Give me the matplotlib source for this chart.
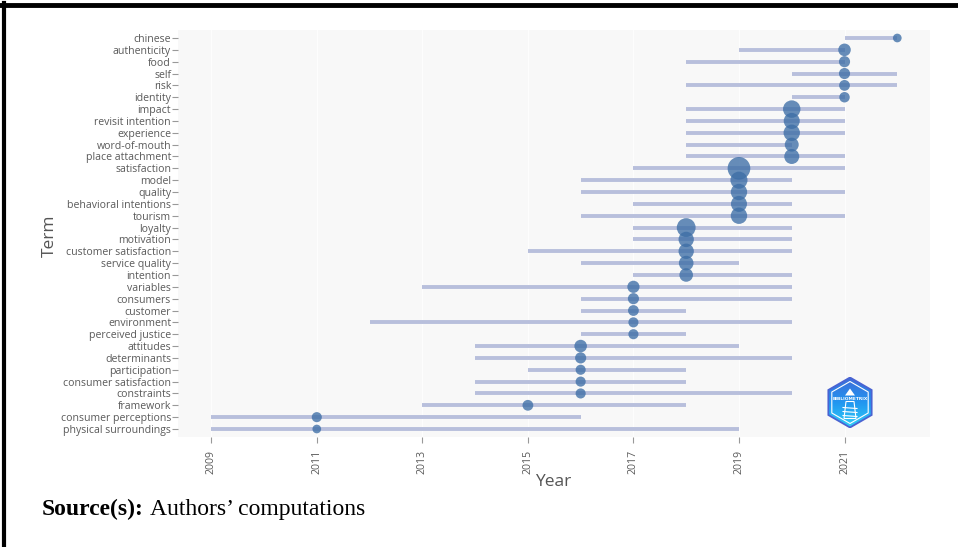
import matplotlib
matplotlib.use('Agg')
import matplotlib.pyplot as plt
import numpy as np
from matplotlib.patches import Polygon
from matplotlib.lines import Line2D
from matplotlib.colors import LinearSegmentedColormap

# ---------------- data ----------------
terms = ["chinese", "authenticity", "food", "self", "risk", "identity", "impact",
         "revisit intention", "experience", "word-of-mouth", "place attachment",
         "satisfaction", "model", "quality", "behavioral intentions", "tourism",
         "loyalty", "motivation", "customer satisfaction", "service quality",
         "intention", "variables", "consumers", "customer", "environment",
         "perceived justice", "attitudes", "determinants", "participation",
         "consumer satisfaction", "constraints", "framework",
         "consumer perceptions", "physical surroundings"]
year_q1 = [2021, 2019, 2018, 2020, 2018, 2020, 2018, 2018, 2018, 2018, 2018,
           2017, 2016, 2016, 2017, 2016, 2017, 2017, 2015, 2016, 2017,
           2013, 2016, 2016, 2012, 2016, 2014, 2014, 2015, 2014, 2014, 2013,
           2009, 2009]
year_med = [2022, 2021, 2021, 2021, 2021, 2021, 2020, 2020, 2020, 2020, 2020,
            2019, 2019, 2019, 2019, 2019, 2018, 2018, 2018, 2018, 2018,
            2017, 2017, 2017, 2017, 2017, 2016, 2016, 2016, 2016, 2016, 2015,
            2011, 2011]
year_q3 = [2022, 2021, 2021, 2022, 2022, 2021, 2021, 2021, 2021, 2020, 2021,
           2021, 2020, 2021, 2020, 2021, 2020, 2020, 2020, 2019, 2020,
           2020, 2020, 2018, 2020, 2018, 2019, 2020, 2018, 2018, 2020, 2018,
           2016, 2019]
freq = [5, 16, 12, 12, 11, 10, 30, 26, 27, 20, 23,
        45, 29, 27, 26, 27, 34, 24, 24, 22, 19,
        15, 12, 11, 9, 9, 16, 12, 9, 9, 9, 11,
        9, 5]
x_ticks = [2009, 2011, 2013, 2015, 2017, 2019, 2021]

# ---------------- figure ----------------
W, H = 958, 547
fig = plt.figure(figsize=(W / 100, H / 100), dpi=100)

def px(x0, y0, x1, y1):
    return [x0 / W, 1 - y1 / H, (x1 - x0) / W, (y1 - y0) / H]

ax = fig.add_axes(px(178, 30, 930, 437))
ax.set_facecolor('#f8f8f8')

y = np.arange(len(terms))
ax.hlines(y, year_q1, year_q3, color='#b8bfdc', lw=2.8, zorder=2)
f = np.array(freq, dtype=float)
diam_px = 8.7 + 0.35 * (f - 5)
sizes = (diam_px * 0.72) ** 2
ax.scatter(year_med, y, s=sizes, color='#3d6ea6', alpha=0.78,
           edgecolors='none', zorder=3)

ax.set_xlim(2008.37, 2022.62)
ax.set_ylim(len(terms) - 1 + 0.675, -0.675)
ax.set_yticks(y, terms, family='Open Sans')
ax.set_xticks(x_ticks, [str(t) for t in x_ticks], rotation=90, family='Open Sans')
ax.tick_params(axis='y', length=4, width=0.8, color='#999', labelsize=7.6,
               labelcolor='#5a5a5a', pad=1)
ax.tick_params(axis='x', length=4, width=0.8, color='#999', labelsize=7.6,
               labelcolor='#5a5a5a', pad=5)
for sp in ax.spines.values():
    sp.set_visible(False)
ax.grid(axis='x', color='#fdfdfd', lw=1.0)
ax.set_axisbelow(True)

fig.text(50 / W, 1 - 236 / H, 'Term', rotation=90, ha='center', va='center',
         fontsize=12.5, color='#555', family='Open Sans')
fig.text(553 / W, 1 - 482 / H, 'Year', ha='center', va='center',
         fontsize=12.5, color='#555', family='Open Sans')

# ---------------- source note ----------------
t1 = fig.text(42 / W, 1 - 515 / H, 'Source(s):', ha='left', va='baseline',
              fontsize=17, fontweight='bold', family='Liberation Serif', color='black')
fig.canvas.draw()
bb = t1.get_window_extent(fig.canvas.get_renderer())
fig.text(bb.x1 / W + 6 / W, 1 - 515 / H, 'Authors\u2019 computations', ha='left',
         va='baseline', fontsize=17, family='Liberation Serif', color='black')

# ---------------- frame ----------------
fig.add_artist(Line2D([0, 1], [1 - 4.5 / H, 1 - 4.5 / H], color='black', lw=3.5,
                      transform=fig.transFigure))
fig.add_artist(Line2D([4 / W, 4 / W], [0, 1 - 3 / H], color='black', lw=3.0,
                      transform=fig.transFigure))

# ---------------- logo ----------------
lax = fig.add_axes(px(826, 377, 874, 428))
lax.set_xlim(-24, 24)
lax.set_ylim(-25.5, 25.5)
lax.axis('off')
R = 25
ang = np.deg2rad(90 + 60 * np.arange(6))
verts = np.c_[R * np.cos(ang), R * np.sin(ang)]
cmap = LinearSegmentedColormap.from_list('lg', ['#3f6ad8', '#2196f0', '#30d0f8'])
grad = np.linspace(0, 1, 100).reshape(-1, 1)
im = lax.imshow(grad, cmap=cmap, extent=[-24, 24, -25.5, 25.5], origin='upper',
                aspect='auto')
hexp = Polygon(verts, closed=True, facecolor='none', edgecolor='#4a63d2', lw=1.3)
lax.add_patch(hexp)
im.set_clip_path(hexp)
inner = Polygon(verts * 0.84, closed=True, facecolor='none', edgecolor='white', lw=0.8)
lax.add_patch(inner)
lax.text(0, 4, 'BIBLIOMETRIX', ha='center', va='center', fontsize=3.2,
         color='white', fontweight='bold', family='DejaVu Sans')
lax.add_patch(Polygon([[-4, 1], [4, 1], [6, -16], [-6, -16]], closed=True,
                      facecolor='none', edgecolor='white', lw=0.8))
for yy in [-5, -9, -13]:
    lax.plot([-7, 7], [yy, yy - 1], color='white', lw=0.8)
lax.add_patch(Polygon([[0, 14], [5, 7], [-5, 7]], closed=True,
                      facecolor='white', edgecolor='none'))

fig.savefig('out.png', dpi=100)
